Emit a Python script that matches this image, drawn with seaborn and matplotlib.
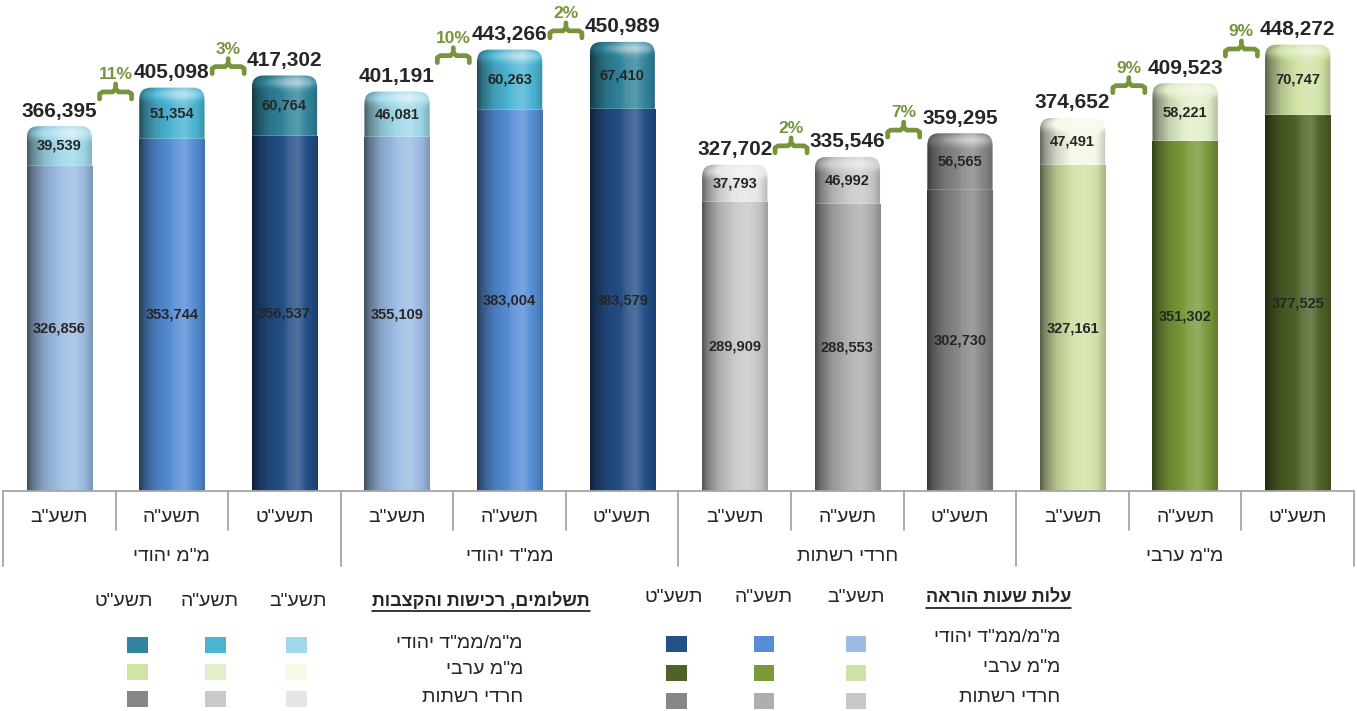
import numpy as np
import pandas as pd
import seaborn as sns
import matplotlib
matplotlib.use("Agg")
import matplotlib.pyplot as plt
import matplotlib.transforms as mtransforms
from matplotlib.patches import FancyBboxPatch, Rectangle
from matplotlib.colors import to_rgb

# ---- data ----
groups = ['מ"מ יהודי', 'ממ"ד יהודי', 'חרדי רשתות', 'מ"מ ערבי']
years = ['תשע"ב', 'תשע"ה', 'תשע"ט']

teaching = [326856, 353744, 356537,
            355109, 383004, 383579,
            289909, 288553, 302730,
            327161, 351302, 377525]
payments = [39539, 51354, 60764,
            46081, 60263, 67410,
            37793, 46992, 56565,
            47491, 58221, 70747]
totals = [366395, 405098, 417302,
          401191, 443266, 450989,
          327702, 335546, 359295,
          374652, 409523, 448272]
growth = ['11%', '3%', '10%', '2%', '2%', '7%', '9%', '9%']

legend_rows = ['מ"מ/ממ"ד יהודי', 'מ"מ ערבי', 'חרדי רשתות']
legend_titles = ['תשלומים, רכישות והקצבות', 'עלות שעות הוראה']

# colours: sector -> [תשע"ב, תשע"ה, תשע"ט]
teach_colors = {'jew': ['#9DBCE3', '#558ED5', '#244F87'],
                'arab': ['#D1E2A6', '#7A9A3A', '#4F6228'],
                'haredi': ['#C8C8C8', '#AEAEAE', '#878787']}
pay_colors = {'jew': ['#9FD8E9', '#4BB4D3', '#31849B'],
              'arab': ['#F5F9E6', '#E2EFC9', '#D1E3A5'],
              'haredi': ['#E6E6E6', '#C9C9C9', '#878787']}
group_sector = ['jew', 'jew', 'haredi', 'arab']
legend_sectors = ['jew', 'arab', 'haredi']
GREEN = '#77933C'


def rtl(s):
    # matplotlib has no bidi support, so flip Hebrew to visual order
    return s[::-1]


slots = [f'{g}|{y}' for g in groups for y in years]
bottom_cols = [teach_colors[s][j] for s in group_sector for j in range(3)]
top_cols = [pay_colors[s][j] for s in group_sector for j in range(3)]
df = pd.DataFrame({'slot': slots, 'teaching': teaching,
                   'payments': payments, 'total': totals})

sns.set_style('white')
plt.rcParams['font.family'] = ['Liberation Sans', 'DejaVu Sans']
NUM = ['Liberation Sans', 'DejaVu Sans']

W, H = 1357, 711
fig = plt.figure(figsize=(W / 100, H / 100), dpi=100)
ax_top_px, ax_bot_px = 21, 491
ax = fig.add_axes([3 / W, (H - ax_bot_px) / H, 1351 / W, (ax_bot_px - ax_top_px) / H])
YMAX = 472000

sns.barplot(data=df, x='slot', y='total', hue='slot', palette=dict(zip(slots, top_cols)),
            legend=False, width=0.58, saturation=1, ax=ax)
n0 = len(ax.patches)
tops = sorted(list(ax.patches), key=lambda p: p.get_x())
sns.barplot(data=df, x='slot', y='teaching', hue='slot', palette=dict(zip(slots, bottom_cols)),
            legend=False, width=0.58, saturation=1, ax=ax)
bottoms = sorted(list(ax.patches)[n0:], key=lambda p: p.get_x())

ax.set_xlim(-0.5, 11.5)
ax.set_ylim(0, YMAX)
ax.axis('off')

px_x = 12 / 1351.0                      # data units per pixel
px_y = YMAX / (ax_bot_px - ax_top_px)

KT = [0, 0.08, 0.25, 0.55, 0.7, 0.88, 1.0]
KK = [0.42, 0.62, 0.86, 1.05, 1.09, 0.97, 0.8]


def shade(color, k):
    c = np.array(to_rgb(color))
    k = k[..., None]
    dark = c * np.minimum(k, 1)
    out = np.where(k > 1, dark + (1 - dark) * (k - 1) * 2.2, dark)
    return np.clip(out, 0, 1)


def paint(p, col, y0, y1, clip, cap, z):
    x, w = p.get_x(), p.get_width()
    k = np.interp(np.linspace(0, 1, 90), KT, KK)
    ny = 400
    kk = np.tile(k, (ny, 1))
    if cap:
        d = (y1 - np.linspace(y1, y0, ny)) / px_y
        kk = kk + (0.2 * np.exp(-((d - 7) / 6) ** 2))[:, None]
    im = ax.imshow(shade(col, kk), extent=(x, x + w, y0, y1), aspect='auto',
                   origin='upper', interpolation='bilinear', zorder=z)
    im.set_clip_path(clip)


for i, (pt, pb) in enumerate(zip(tops, bottoms)):
    x, w = pt.get_x(), pt.get_width()
    pt.set_visible(False)
    rounded = FancyBboxPatch((x, 0), w, totals[i],
                             boxstyle=f'round,pad=0,rounding_size={12 * px_x}',
                             mutation_aspect=px_y / px_x, fc='none', ec='none', zorder=2)
    ax.add_patch(rounded)
    paint(pt, top_cols[i], teaching[i], totals[i], rounded, True, 2.1)
    pb.set_zorder(3)
    paint(pb, bottom_cols[i], 0, teaching[i], pb, False, 3.1)

    xc = x + w / 2
    ax.annotate(f'{totals[i]:,}', (xc, totals[i]), xytext=(0, 4), textcoords='offset points',
                ha='center', va='bottom', fontsize=15, fontweight='bold', family=NUM, zorder=6)
    ax.text(xc, teaching[i] + payments[i] / 2, f'{payments[i]:,}', ha='center', va='center',
            fontsize=10.5, fontweight='bold', family=NUM, zorder=6)
    ax.text(xc, teaching[i] / 2, f'{teaching[i]:,}', ha='center', va='center',
            fontsize=10.5, fontweight='bold', family=NUM, zorder=6)

# growth brackets between neighbouring bars
k = 0
for g in range(4):
    for j in range(2):
        a = 3 * g + j
        xc = a + 0.5
        yc = (totals[a] + totals[a + 1]) / 2 + 15000
        tr = mtransforms.Affine2D() + mtransforms.ScaledTranslation(xc, yc, ax.transData)
        ax.plot([-16, -16, -13, -3, 0, 0], [-7, -2, 0, 0, 3, 8], color=GREEN, lw=3.4,
                transform=tr, clip_on=False, solid_joinstyle='round', zorder=6)
        ax.plot([16, 16, 13, 3, 0], [-7, -2, 0, 0, 3], color=GREEN, lw=3.4,
                transform=tr, clip_on=False, solid_joinstyle='round', zorder=6)
        ax.annotate(growth[k], (xc, yc), xytext=(0, 7), textcoords='offset points',
                    ha='center', va='bottom', fontsize=12.5, fontweight='bold',
                    family=NUM, color=GREEN, zorder=6)
        k += 1

# two-level category axis
AX_GREY = '#A6A6A6'
ax.plot([-0.5, 11.5], [0, 0], color=AX_GREY, lw=1.3, clip_on=False, zorder=7)
bt = mtransforms.blended_transform_factory(ax.transData, ax.transAxes)
for b in np.arange(-0.5, 12, 1.0):
    major = round(b + 0.5) % 3 == 0
    ax.plot([b, b], [0, -0.16 if major else -0.083], color=AX_GREY, lw=1.3,
            transform=bt, clip_on=False)
for i in range(12):
    ax.text(i, -0.0574, rtl(years[i % 3]), transform=bt, ha='center', va='center', fontsize=14)
for g in range(4):
    ax.text(3 * g + 1, -0.1404, rtl(groups[g]), transform=bt, ha='center', va='center', fontsize=14)

# legend table


def fx(px):
    return px / W


def fy(py):
    return 1 - py / H


renderer = fig.canvas.get_renderer()
blocks = [
    dict(title=legend_titles[0], title_x=590, title_y=601, cols=[137, 215, 296],
         heads=[124, 210, 298], head_y=602,
         sq_y=[645, 672, 699], lab_x=523, lab_y=[643, 670, 698], colors=pay_colors),
    dict(title=legend_titles[1], title_x=1071, title_y=598, cols=[676, 764, 856],
         heads=[674, 764, 856], head_y=598,
         sq_y=[644, 673, 701], lab_x=1060, lab_y=[638, 667, 697], colors=teach_colors),
]
for blk in blocks:
    t = fig.text(fx(blk['title_x']), fy(blk['title_y']), rtl(blk['title']), ha='right',
                 va='center', fontsize=13, fontweight='bold')
    bb = t.get_window_extent(renderer)
    fig.add_artist(plt.Line2D([bb.x0 / W, bb.x1 / W], [(bb.y0 - 1) / H] * 2,
                              color='black', lw=1.1, transform=fig.transFigure))
    for c, hx, yr_idx in zip(blk['cols'], blk['heads'], [2, 1, 0]):
        fig.text(fx(hx), fy(blk['head_y']), rtl(years[yr_idx]), ha='center', va='center', fontsize=14)
        for r, sec in enumerate(legend_sectors):
            fig.add_artist(Rectangle((fx(c - 10.5), fy(blk['sq_y'][r] + 8)), 21 / W, 16 / H,
                                     transform=fig.transFigure, fc=blk['colors'][sec][yr_idx],
                                     ec='none'))
    for r, lab in enumerate(legend_rows):
        fig.text(fx(blk['lab_x']), fy(blk['lab_y'][r]), rtl(lab), ha='right', va='center', fontsize=14)

fig.savefig('out.png', dpi=100)
